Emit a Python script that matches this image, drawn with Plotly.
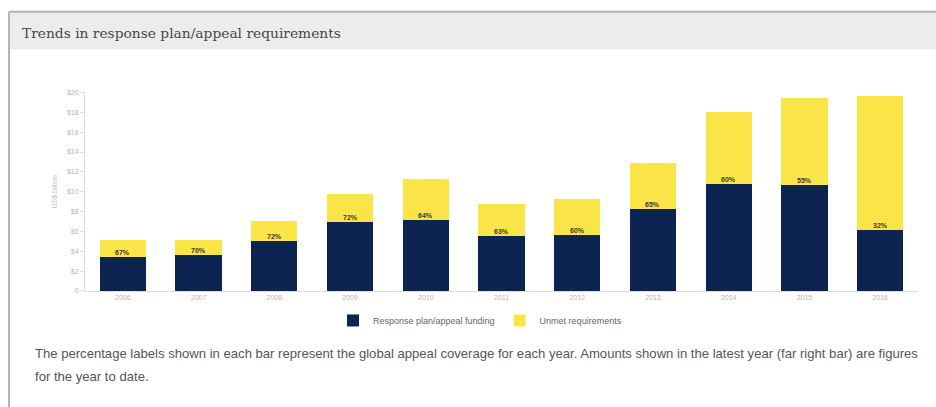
import plotly.graph_objects as go

years = ["2006", "2007", "2008", "2009", "2010", "2011", "2012", "2013", "2014", "2015", "2016"]
funding = [3.4, 3.6, 5.05, 6.95, 7.2, 5.55, 5.6, 8.3, 10.8, 10.7, 6.1]
unmet = [1.75, 1.5, 2.05, 2.85, 4.1, 3.25, 3.65, 4.55, 7.2, 8.7, 13.5]
pct_labels = ["67%", "70%", "72%", "72%", "64%", "63%", "60%", "65%", "60%", "55%", "32%"]
tick_vals = [0, 2, 4, 6, 8, 10, 12, 14, 16, 18, 20]
tick_text = ["0", "$2", "$4", "$6", "$8", "$10", "$12", "$14", "$16", "$18", "$20"]

W, H = 936, 407


def px(x):
    return x / W


def py(y):
    return 1 - y / H


NAVY = "#0d2352"
YELLOW = "#f9e548"

fig = go.Figure()
fig.add_trace(go.Bar(x=years, y=funding, name="Response plan/appeal funding",
                     marker=dict(color=NAVY, line=dict(width=0))))
fig.add_trace(go.Bar(x=years, y=unmet, name="Unmet requirements",
                     marker=dict(color=YELLOW, line=dict(width=0))))

annotations = []
for i, (f, lab) in enumerate(zip(funding, pct_labels)):
    annotations.append(dict(x=i, y=f, xref="x", yref="y", text="<b>" + lab + "</b>",
                            showarrow=False, yanchor="bottom", yshift=-1,
                            font=dict(size=7, color="#3a3a2a", family="Liberation Sans")))

annotations.append(dict(x=px(20), y=py(29), xref="paper", yref="paper", xanchor="left",
                        yanchor="middle", showarrow=False,
                        text="Trends in response plan/appeal requirements",
                        font=dict(size=13.8, color="#474747", family="DejaVu Serif")))
annotations.append(dict(x=px(33), y=py(356), xref="paper", yref="paper", xanchor="left",
                        yanchor="middle", showarrow=False,
                        text="The percentage labels shown in each bar represent the global appeal coverage for each year. Amounts shown in the latest year (far right bar) are figures",
                        font=dict(size=13.1, color="#555555", family="Liberation Sans")))
annotations.append(dict(x=px(33), y=py(379), xref="paper", yref="paper", xanchor="left",
                        yanchor="middle", showarrow=False,
                        text="for the year to date.",
                        font=dict(size=13.1, color="#555555", family="Liberation Sans")))

shapes = [
    dict(type="rect", xref="paper", yref="paper", x0=px(9), x1=px(945), y0=py(8), y1=py(46),
         fillcolor="#ececec", line=dict(width=0), layer="below"),
    dict(type="line", xref="paper", yref="paper", x0=px(9), x1=px(945), y0=py(8), y1=py(8),
         line=dict(color="#b5b5b5", width=2)),
    dict(type="line", xref="paper", yref="paper", x0=px(9), x1=px(9), y0=py(8), y1=py(420),
         line=dict(color="#b5b5b5", width=2)),
]

fig.update_layout(
    width=W, height=H,
    margin=dict(l=0, r=0, t=0, b=0),
    paper_bgcolor="white", plot_bgcolor="white",
    barmode="stack", bargap=0.39,
    showlegend=True,
    legend=dict(orientation="h", x=px(480), xanchor="center", y=py(322), yanchor="middle",
                traceorder="normal",
                font=dict(size=9, color="#666666", family="Liberation Sans"),
                itemwidth=30, bgcolor="rgba(0,0,0,0)"),
    xaxis=dict(type="category", domain=[px(85), px(918)], range=[-0.5, 10.5], showline=True,
               linecolor="#dddddd", linewidth=1, ticks="",
               tickfont=dict(size=7, color="#b5b5b5", family="Liberation Sans"),
               showgrid=False, zeroline=False),
    yaxis=dict(domain=[py(292), py(90)], range=[0, 20], tickvals=tick_vals, ticktext=tick_text,
               showline=True, linecolor="#dddddd", linewidth=1, ticks="outside", ticklen=4,
               tickcolor="#dddddd", showgrid=False, zeroline=False,
               tickfont=dict(size=7, color="#b5b5b5", family="Liberation Sans"),
               title=dict(text="US$ billion", font=dict(size=7, color="#c0c0c0",
                                                        family="Liberation Sans"), standoff=8)),
    annotations=annotations,
    shapes=shapes,
)

fig.write_html("out.html", config={"displayModeBar": False},
               post_script="document.body.style.margin='0';document.body.style.overflow='hidden';")
